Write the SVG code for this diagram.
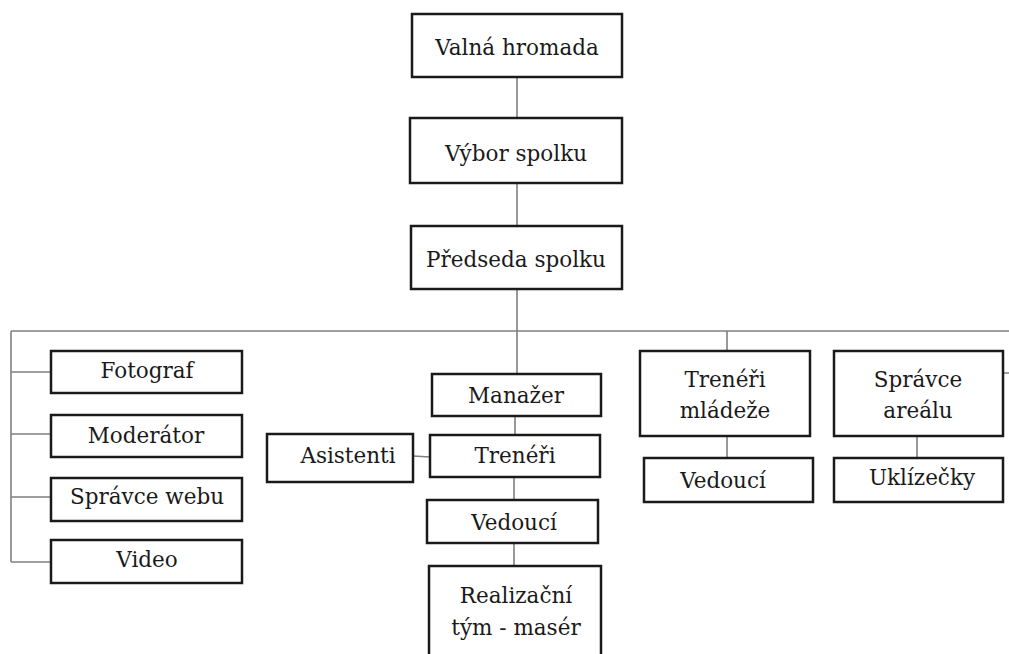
<svg xmlns="http://www.w3.org/2000/svg" width="1009" height="654" viewBox="0 0 1009 654">
<style>
.box{fill:#fff;stroke:#1a1a1a;stroke-width:2.5}
.c{fill:none;stroke:#808080;stroke-width:1.6}
text{font-family:"DejaVu Serif","Liberation Serif",serif;font-size:21.5px;fill:#1a1a1a;text-anchor:middle}
</style>
<rect width="1009" height="654" fill="#fff"/>
<g id="connectors">
<path class="c" d="M517 77V118M517 183V226M517 289V374M11 331H1009M11 331V562M11 372H51M11 434H51M11 497H51M11 562H51M515 416V435M413 456L430 457M514 477V500M514 543V566M727 331V351M727 436V458M917 436V458M1003 373H1009"/>
</g>
<g id="valna"><rect class="box" x="412" y="14" width="210" height="63"/><text x="517" y="55">Valná hromada</text></g>
<g id="vybor"><rect class="box" x="410" y="118" width="212" height="65"/><text x="516" y="161">Výbor spolku</text></g>
<g id="predseda"><rect class="box" x="411" y="226" width="211" height="63"/><text x="516" y="267">Předseda spolku</text></g>
<g id="fotograf"><rect class="box" x="51" y="351" width="191" height="42"/><text x="147" y="378">Fotograf</text></g>
<g id="moderator"><rect class="box" x="51" y="415" width="191" height="42"/><text x="146" y="443">Moderátor</text></g>
<g id="spravcewebu"><rect class="box" x="51" y="478" width="191" height="43"/><text x="147" y="504">Správce webu</text></g>
<g id="video"><rect class="box" x="51" y="540" width="191" height="43"/><text x="147" y="567">Video</text></g>
<g id="asistenti"><rect class="box" x="267" y="434" width="146" height="48"/><text x="348" y="463">Asistenti</text></g>
<g id="manazer"><rect class="box" x="432" y="374" width="169" height="42"/><text x="516" y="403">Manažer</text></g>
<g id="treneri"><rect class="box" x="430" y="435" width="170" height="42"/><text x="515" y="463">Trenéři</text></g>
<g id="vedouci1"><rect class="box" x="427" y="500" width="171" height="43"/><text x="514" y="530">Vedoucí</text></g>
<g id="realizacni"><rect class="box" x="429" y="566" width="172" height="100"/><text x="516" y="603">Realizační</text><text x="516" y="635">tým - masér</text></g>
<g id="trenerimladeze"><rect class="box" x="640" y="351" width="170" height="85"/><text x="725" y="387">Trenéři</text><text x="725" y="418">mládeže</text></g>
<g id="vedouci2"><rect class="box" x="644" y="458" width="169" height="44"/><text x="723" y="488">Vedoucí</text></g>
<g id="spravcearealu"><rect class="box" x="834" y="351" width="169" height="85"/><text x="918" y="387">Správce</text><text x="918" y="418">areálu</text></g>
<g id="uklizecky"><rect class="box" x="834" y="458" width="169" height="44"/><text x="922" y="485">Uklízečky</text></g>
</svg>
